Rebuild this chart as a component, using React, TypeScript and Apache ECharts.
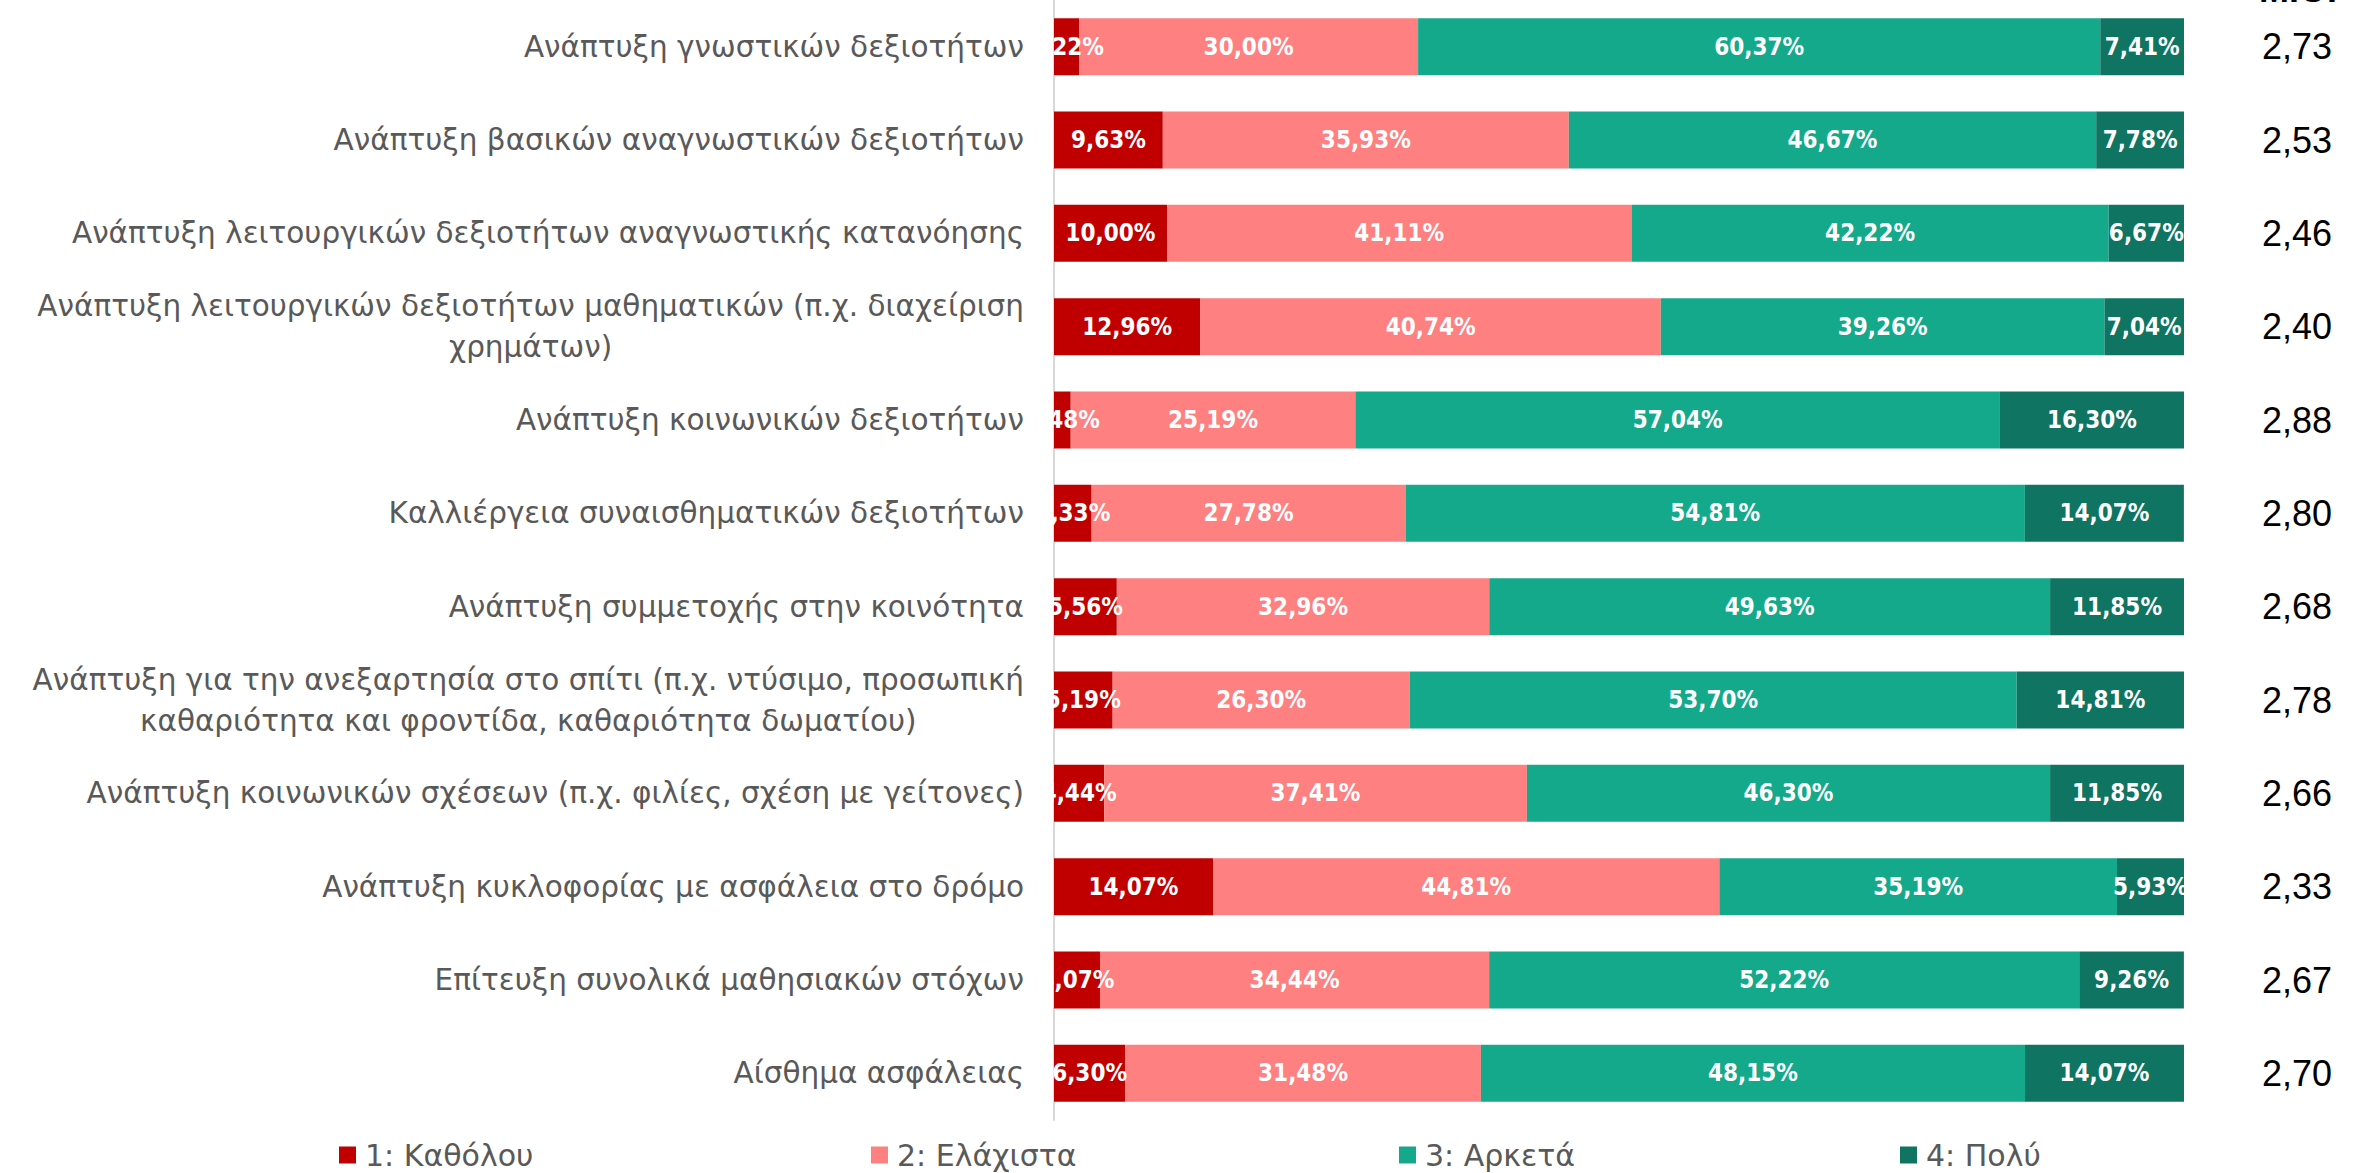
import React, { useEffect, useRef } from "react";
import * as echarts from "echarts";

const categories = [
  "Ανάπτυξη γνωστικών δεξιοτήτων",
  "Ανάπτυξη βασικών αναγνωστικών δεξιοτήτων",
  "Ανάπτυξη λειτουργικών δεξιοτήτων αναγνωστικής κατανόησης",
  "Ανάπτυξη λειτουργικών δεξιοτήτων μαθηματικών (π.χ. διαχείριση\nχρημάτων)",
  "Ανάπτυξη κοινωνικών δεξιοτήτων",
  "Καλλιέργεια συναισθηματικών δεξιοτήτων",
  "Ανάπτυξη συμμετοχής στην κοινότητα",
  "Ανάπτυξη για την ανεξαρτησία στο σπίτι (π.χ. ντύσιμο, προσωπική\nκαθαριότητα και φροντίδα, καθαριότητα δωματίου)",
  "Ανάπτυξη κοινωνικών σχέσεων (π.χ. φιλίες, σχέση με γείτονες)",
  "Ανάπτυξη κυκλοφορίας με ασφάλεια στο δρόμο",
  "Επίτευξη συνολικά μαθησιακών στόχων",
  "Αίσθημα ασφάλειας",
];

const seriesNames = ["1: Καθόλου", "2: Ελάχιστα", "3: Αρκετά", "4: Πολύ"];
const katholou = [2.22, 9.63, 10.0, 12.96, 1.48, 3.33, 5.56, 5.19, 4.44, 14.07, 4.07, 6.3];
const elaxista = [30.0, 35.93, 41.11, 40.74, 25.19, 27.78, 32.96, 26.3, 37.41, 44.81, 34.44, 31.48];
const arketa = [60.37, 46.67, 42.22, 39.26, 57.04, 54.81, 49.63, 53.7, 46.3, 35.19, 52.22, 48.15];
const poly = [7.41, 7.78, 6.67, 7.04, 16.3, 14.07, 11.85, 14.81, 11.85, 5.93, 9.26, 14.07];
const means = ["2,73", "2,53", "2,46", "2,40", "2,88", "2,80", "2,68", "2,78", "2,66", "2,33", "2,67", "2,70"];
const meanHeader = "Μ.Ο.";

const colors = ["#C00000", "#FF8080", "#15A98C", "#0F7461"];
const legendLefts = [339, 871, 1399, 1900];

export default function App() {
  const ref = useRef<HTMLDivElement>(null);
  useEffect(() => {
    if (!ref.current) return;
    const chart = echarts.init(ref.current, undefined, { renderer: "svg" });
    const values = [katholou, elaxista, arketa, poly];
    const labelFont = "'DejaVu Sans', 'Noto Sans', sans-serif";
    chart.setOption({
      animation: false,
      backgroundColor: "#ffffff",
      grid: { left: 1054, right: 178, top: 0, height: 1120, containLabel: false },
      xAxis: { type: "value", min: 0, max: 100, show: false },
      yAxis: [
        {
          type: "category",
          data: categories,
          inverse: true,
          axisLine: { show: true, lineStyle: { color: "#D9D9D9", width: 2 } },
          axisTick: { show: false },
          axisLabel: {
            interval: 0,
            margin: 30,
            color: "#595959",
            fontSize: 29.5,
            fontFamily: labelFont,
            lineHeight: 41,
            align: "right",
            formatter: (v: string) => {
              const lines = v.split("\n");
              if (lines.length === 1) return v;
              return lines.map((l) => `{c|${l}}`).join("\n");
            },
            rich: {
              c: {
                align: "center",
                color: "#595959",
                fontSize: 29.5,
                fontFamily: labelFont,
                lineHeight: 41,
              },
            },
          },
        },
        {
          type: "category",
          data: means,
          inverse: true,
          position: "right",
          axisLine: { show: false },
          axisTick: { show: false },
          axisLabel: {
            interval: 0,
            margin: 78,
            align: "left",
            color: "#000000",
            fontSize: 36,
            fontFamily: "'Liberation Sans', Arial, sans-serif",
          },
        },
      ],
      legend: seriesNames.map((n, i) => ({
        data: [n],
        left: legendLefts[i],
        top: 1140,
        padding: 0,
        icon: "rect",
        itemWidth: 17,
        itemHeight: 17,
        textStyle: {
          color: "#595959",
          fontSize: 30,
          fontFamily: labelFont,
          padding: [0, 0, 0, 4],
        },
      })),
      graphic: [
        {
          type: "text",
          x: 2298,
          y: 7,
          style: {
            text: meanHeader,
            align: "center",
            verticalAlign: "bottom",
            fontSize: 36,
            fontWeight: "bold",
            fontFamily: "'Liberation Sans', Arial, sans-serif",
            fill: "#000000",
          },
        },
      ],
      series: seriesNames.map((n, i) => ({
        name: n,
        type: "bar",
        stack: "total",
        barCategoryGap: "39%",
        itemStyle: { color: colors[i] },
        label: {
          show: true,
          position: "inside",
          color: "#ffffff",
          fontWeight: "bold",
          fontSize: 24,
          fontFamily: "'Liberation Sans Narrow', 'DejaVu Sans Condensed', 'Roboto', sans-serif",
          formatter: (p: any) => Number(p.value).toFixed(2).replace(".", ",") + "%",
        },
        data: values[i],
      })),
    });
    return () => chart.dispose();
  }, []);
  return (
    <div
      ref={ref}
      style={{ position: "absolute", left: 0, top: 0, width: 2362, height: 1173 }}
    />
  );
}
